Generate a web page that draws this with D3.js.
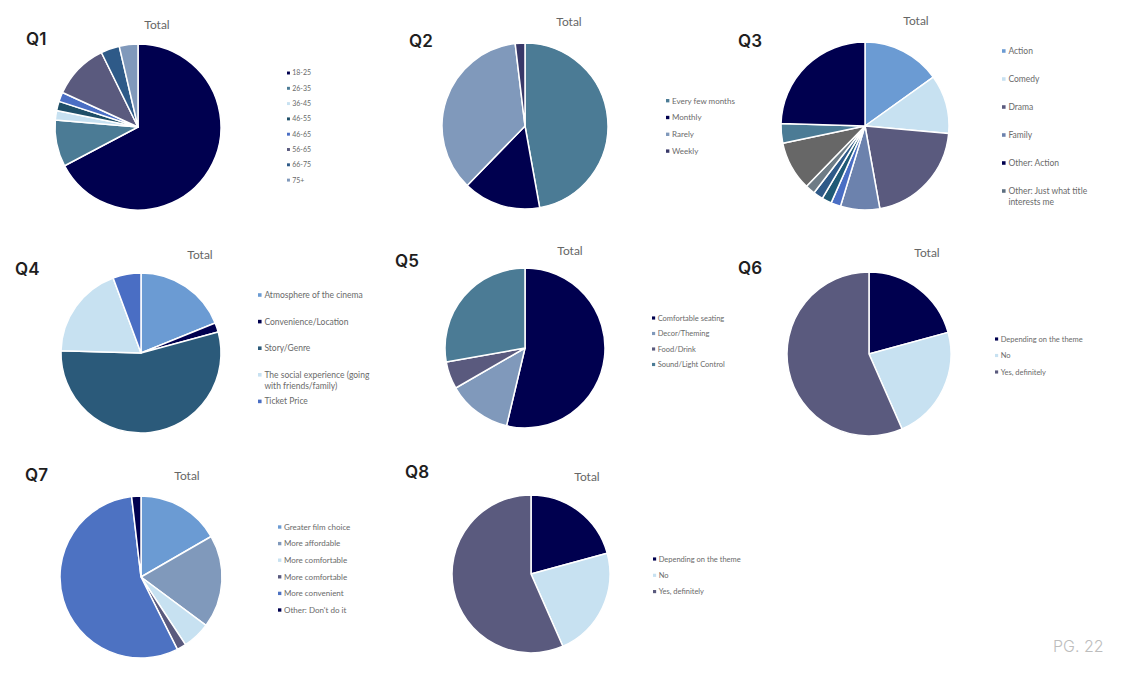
<!DOCTYPE html>
<html>
<head>
<meta charset="utf-8">
<script src="https://cdn.jsdelivr.net/npm/d3@7"></script>
<style>
  body { margin: 0; background: #fff; }
  svg { display: block; }
</style>
</head>
<body>
<div class="vis-pies"></div>
<script>
// data (counts of respondents)
const q1Labels = ['18-25', '26-35', '36-45', '46-55', '46-65', '56-65', '66-75', '75+'];
const q1Values = [37, 5, 1, 1, 1, 6, 2, 2];
const q2Labels = ['Every few months', 'Monthly', 'Rarely', 'Weekly'];
const q2Values = [25, 8, 19, 1];
const q3Labels = ['Action', 'Comedy', 'Drama', 'Family', 'Other: Horror', 'Other: Sci-fi', 'Other: Thriller',
  'Other: Romance', 'Other: Anything', 'Other: Just what title interests me', 'Other: Action'];
const q3Values = [8, 6, 11, 4, 1, 1, 1, 1, 5, 2, 13];
const q3LegendLabels = ['Action', 'Comedy', 'Drama', 'Family', 'Other: Action', 'Other: Just what title\ninterests me'];
const q4Labels = ['Atmosphere of the cinema', 'Convenience/Location', 'Story/Genre',
  'The social experience (going\nwith friends/family)', 'Ticket Price'];
const q4Values = [10, 1, 29, 10, 3];
const q5Labels = ['Comfortable seating', 'Decor/Theming', 'Food/Drink', 'Sound/Light Control'];
const q5Values = [29, 7, 3, 15];
const q6Labels = ['Depending on the theme', 'No', 'Yes, definitely'];
const q6Values = [11, 12, 30];
const q7Labels = ['Greater film choice', 'More affordable', 'More comfortable', 'More comfortable',
  'More convenient', "Other: Don't do it"];
const q7Values = [9, 10, 3, 1, 30, 1];
const q8Labels = ['Depending on the theme', 'No', 'Yes, definitely'];
const q8Values = [11, 12, 30];

// colours
const navy = '#00004f', teal = '#4b7b95', light = '#c7e1f1', purple = '#5a5a7e',
  greyBlue = '#8099bb', blue = '#4a6ec4', sky = '#6b9bd3';
const q1Colors = [navy, teal, light, '#1f4f68', blue, purple, '#2e5a88', greyBlue];
const q2Colors = [teal, navy, greyBlue, '#383868'];
const q3Colors = [sky, light, purple, '#6c82ad', blue, '#1f5a76', '#2e5a88', '#6e7c86', '#676767', teal, navy];
const q3LegendColors = [sky, light, purple, '#6c82ad', navy, '#5d6f80'];
const q4Colors = [sky, navy, '#2b5a7a', light, blue];
const q5Colors = [navy, greyBlue, purple, teal];
const q6Colors = [navy, light, purple];
const q7Colors = [sky, greyBlue, light, purple, '#4d72c2', navy];
const q8Colors = [navy, light, purple];

// layout of the panels
const charts = [
  {q: 'Q1', labels: q1Labels, values: q1Values, colors: q1Colors, cx: 138, cy: 127, r: 83,
    qx: 26, qy: 45, tx: 157, ty: 25, lx: 287, ly: 73, step: 15.3, fs: 7},
  {q: 'Q2', labels: q2Labels, values: q2Values, colors: q2Colors, cx: 525, cy: 126, r: 83,
    qx: 409, qy: 47, tx: 569, ty: 22, lx: 666, ly: 100.7, step: 16.8, fs: 8},
  {q: 'Q3', labels: q3Labels, values: q3Values, colors: q3Colors, cx: 865, cy: 126, r: 84,
    legend: q3LegendLabels, legendColors: q3LegendColors,
    qx: 738, qy: 47, tx: 916, ty: 21, lx: 1002, ly: 51, step: 28, fs: 8.5},
  {q: 'Q4', labels: q4Labels, values: q4Values, colors: q4Colors, cx: 141, cy: 353, r: 80,
    qx: 15, qy: 275, tx: 200, ty: 255, lx: 258, ly: 295, step: 26.6, fs: 8.5},
  {q: 'Q5', labels: q5Labels, values: q5Values, colors: q5Colors, cx: 525, cy: 348, r: 80,
    qx: 395, qy: 267, tx: 570, ty: 251, lx: 652, ly: 318, step: 15.5, fs: 7.5},
  {q: 'Q6', labels: q6Labels, values: q6Values, colors: q6Colors, cx: 869, cy: 354, r: 82,
    qx: 738, qy: 274, tx: 927, ty: 253, lx: 995, ly: 339, step: 16.5, fs: 7.5},
  {q: 'Q7', labels: q7Labels, values: q7Values, colors: q7Colors, cx: 141, cy: 577, r: 81,
    qx: 25, qy: 481, tx: 187, ty: 476, lx: 278, ly: 527, step: 16.6, fs: 8},
  {q: 'Q8', labels: q8Labels, values: q8Values, colors: q8Colors, cx: 531, cy: 574, r: 79,
    qx: 405, qy: 478, tx: 587, ty: 477, lx: 653, ly: 559, step: 16.3, fs: 7.5}
];

const width = 1139, height = 693;
const svg = d3.select('.vis-pies').append('svg').attr('width', width).attr('height', height);

const pie = d3.pie().sort(null).value(d => d.value);

charts.forEach(c => {
  const rows = c.labels.map((l, i) => ({label: l, value: c.values[i], color: c.colors[i]}));
  const arc = d3.arc().innerRadius(0).outerRadius(c.r);

  const g = svg.append('g').attr('transform', `translate(${c.cx},${c.cy})`);
  g.selectAll('path')
    .data(pie(rows))
    .enter()
    .append('path')
    .attr('d', arc)
    .attr('fill', d => d.data.color)
    .attr('stroke', '#fff')
    .attr('stroke-width', 1.5)
    .attr('stroke-linejoin', 'round');

  // question label
  svg.append('text')
    .attr('x', c.qx).attr('y', c.qy)
    .attr('font-family', 'Inter, "Open Sans", sans-serif')
    .attr('font-weight', 600)
    .attr('font-size', 17)
    .attr('fill', '#1e1e1e')
    .text(c.q);

  // chart title
  svg.append('text')
    .attr('x', c.tx).attr('y', c.ty)
    .attr('dy', '0.35em')
    .attr('text-anchor', 'middle')
    .attr('font-family', 'Lato, "Open Sans", sans-serif')
    .attr('font-size', 12)
    .attr('fill', '#666')
    .text('Total');

  // legend
  const legLabels = c.legend || c.labels;
  const legColors = c.legendColors || c.colors;
  const leg = svg.append('g').attr('font-family', 'Lato, "Open Sans", sans-serif').attr('font-size', c.fs);
  legLabels.forEach((l, i) => {
    const y = c.ly + i * c.step;
    const ms = c.fs * 0.42;
    leg.append('rect')
      .attr('x', c.lx).attr('y', y - ms / 2)
      .attr('width', ms).attr('height', ms)
      .attr('fill', legColors[i]);
    const t = leg.append('text')
      .attr('x', c.lx + c.fs * 0.75).attr('y', y)
      .attr('fill', '#6a6a6a');
    l.split('\n').forEach((line, j) => {
      t.append('tspan')
        .attr('x', c.lx + c.fs * 0.75)
        .attr('dy', j === 0 ? '0.35em' : '1.3em')
        .text(line);
    });
  });
});

// page number
svg.append('text')
  .attr('x', 1053).attr('y', 652)
  .attr('font-family', 'Inter, sans-serif')
  .attr('font-weight', 300)
  .attr('font-size', 16)
  .attr('fill', '#bdbdbd')
  .text('PG. 22');
</script>
</body>
</html>
